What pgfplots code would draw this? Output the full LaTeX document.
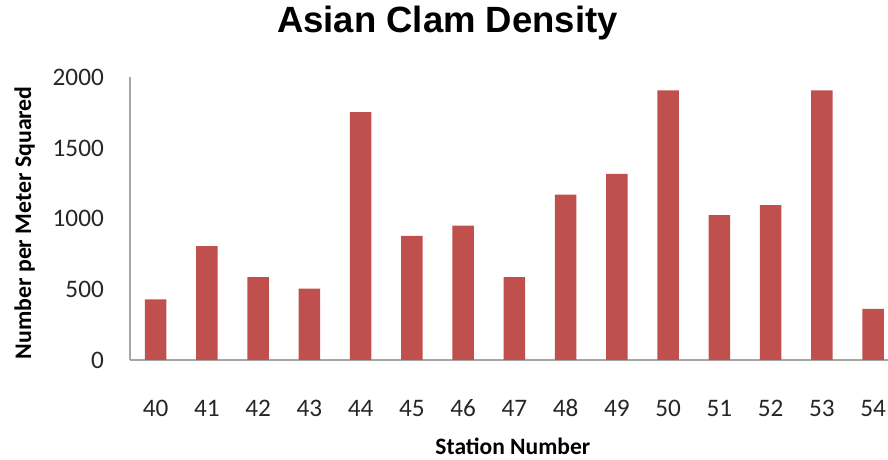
\documentclass[border=0pt]{standalone}
\usepackage{fontspec}
\setmainfont{Carlito}
\newfontfamily\arialfont{Liberation Sans}
\usepackage{pgfplots}
\pgfplotsset{compat=1.18}
\definecolor{barred}{HTML}{C0504D}
\definecolor{axgray}{HTML}{A6A6A6}
\begin{document}
\begin{tikzpicture}
\useasboundingbox (0,0) rectangle (888pt,460pt);
\begin{axis}[
  at={(130pt,100pt)}, anchor=south west,
  scale only axis, width=768.75pt, height=282.5pt,
  clip=false,
  ybar, bar width=21.5pt,
  xmin=-0.5, xmax=14.5, ymin=0, ymax=2000,
  xtick={0,...,14},
  xticklabels={40,41,42,43,44,45,46,47,48,49,50,51,52,53,54},
  ytick={0,500,1000,1500,2000},
  /pgf/number format/1000 sep={},
  /pgf/number format/assume math mode=true,
  axis x line*=bottom, axis y line*=left,
  axis line style={axgray, line width=1.3pt, -},
  major tick length=0pt,
  ticklabel style={font=\fontsize{25.2}{28}\selectfont, text=black!85},
  yticklabel style={anchor=east, inner sep=0pt, xshift=-26pt},
  xticklabel style={anchor=base, inner sep=0pt, yshift=-56pt},
  title={\arialfont\bfseries Asian Clam Density},
  title style={font=\fontsize{36.5}{40}\selectfont, at={(axis description cs:0.413,1.138)}, anchor=base},
  xlabel={\bfseries Station Number},
  xlabel style={font=\fontsize{23.5}{26}\selectfont, at={(axis description cs:0.498,-0.336)}, anchor=base},
  ylabel={\bfseries Number per Meter Squared},
  ylabel style={font=\fontsize{23.8}{26}\selectfont, at={(axis description cs:-0.137,0.486)}, anchor=center, rotate=0},
]
\addplot[fill=barred, draw=none] coordinates {
(0,430) (1,806) (2,586) (3,506) (4,1754) (5,879) (6,952) (7,586)
(8,1170) (9,1317) (10,1908) (11,1026) (12,1097) (13,1908) (14,362)
};
\end{axis}
\end{tikzpicture}
\end{document}
